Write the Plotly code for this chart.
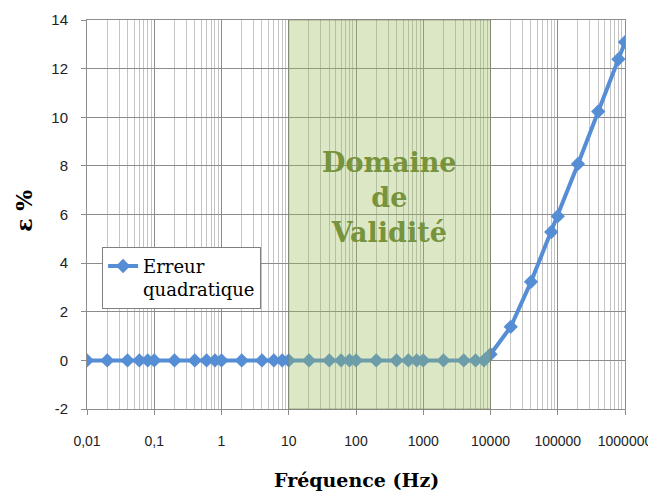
import plotly.graph_objects as go
import math

# fréquences (Hz) et erreur quadratique (%)
frequences = [0.01, 0.02, 0.04, 0.06, 0.08, 0.1, 0.2, 0.4, 0.6, 0.8, 1, 2, 4, 6, 8,
              10, 20, 40, 60, 80, 100, 200, 400, 600, 800, 1000, 2000, 4000, 6000, 8000,
              10000, 20000, 40000, 80000, 100000, 200000, 400000, 800000, 1000000]
erreur = [0, 0, 0, 0, 0, 0, 0, 0, 0, 0, 0, 0, 0, 0, 0,
          0, 0, 0, 0, 0, 0, 0, 0, 0, 0, 0, 0, 0, 0, 0,
          0.25, 1.38, 3.23, 5.28, 5.93, 8.08, 10.24, 12.39, 13.09]

x_ticks = [0.01, 0.1, 1, 10, 100, 1000, 10000, 100000, 1000000]
x_labels = ["0,01", "0,1", "1", "10", "100", "1000", "10000", "100000", "1000000"]
y_ticks = [-2, 0, 2, 4, 6, 8, 10, 12, 14]
y_labels = ["-2", "0", "2", "4", "6", "8", "10", "12", "14"]

domaine = [10, 10000]

major = "#8c8c8c"
minor = "#c4c4c4"

fig = go.Figure()
fig.add_trace(go.Scatter(
    x=frequences, y=erreur, mode="lines+markers",
    name="Erreur<br>quadratique",
    line=dict(color="#558ED5", width=4),
    marker=dict(symbol="diamond", size=11, color="#558ED5"),
))

# zone de validité (transparente, au-dessus de la courbe)
fig.add_shape(type="rect", xref="x", yref="paper",
              x0=domaine[0], x1=domaine[1], y0=0, y1=1,
              fillcolor="rgba(155,187,89,0.35)", line=dict(color="rgba(120,130,100,0.6)", width=1),
              layer="above")

fig.add_annotation(x=(math.log10(domaine[0]) + math.log10(domaine[1])) / 2, y=6.7,
                   text="<b>Domaine<br>de<br>Validité</b>", showarrow=False,
                   font=dict(family="DejaVu Serif", size=27, color="#77933C"))
fig.add_annotation(xref="paper", yref="paper", x=0.5, y=-0.182,
                   xanchor="center", yanchor="middle",
                   text="<b>Fréquence (Hz)</b>", showarrow=False,
                   font=dict(family="DejaVu Serif", size=19, color="black"))
fig.add_annotation(xref="paper", yref="paper", x=-0.117, y=0.51, textangle=-90,
                   xanchor="center", yanchor="middle",
                   text="<b>ε %</b>", showarrow=False,
                   font=dict(family="DejaVu Serif", size=22, color="black"))

fig.update_xaxes(
    type="log", range=[-2, 6], automargin=False,
    tickvals=x_ticks, ticktext=x_labels,
    ticks="outside", ticklen=5, tickcolor=major, ticklabelstandoff=14,
    showgrid=True, gridcolor=major, gridwidth=1,
    minor=dict(dtick="D1", showgrid=True, gridcolor=minor, gridwidth=1, ticks=""),
    showline=True, linecolor=major, mirror=True, zeroline=False,
    tickfont=dict(family="Liberation Sans", size=14, color="#222"),
)
fig.update_yaxes(
    range=[-2, 14], automargin=False, tickvals=y_ticks, ticktext=y_labels,
    ticks="outside", ticklen=5, tickcolor=major, ticklabelstandoff=10,
    showgrid=True, gridcolor=major, gridwidth=1,
    showline=True, linecolor=major, mirror=True, zeroline=False,
    tickfont=dict(family="Liberation Sans", size=15, color="#222"),
)

# la page html ajoute 8px de marge : on compense
fig.update_layout(
    width=648, height=485,
    margin=dict(l=79, r=31, t=12, b=84),
    plot_bgcolor="white", paper_bgcolor="white",
    showlegend=True,
    legend=dict(x=0.028, y=0.417, xanchor="left", yanchor="top",
                bgcolor="white", bordercolor="#7f7f7f", borderwidth=1,
                valign="top", itemwidth=30,
                font=dict(family="DejaVu Serif", size=18, color="black")),
)

fig.write_html("out.html")
